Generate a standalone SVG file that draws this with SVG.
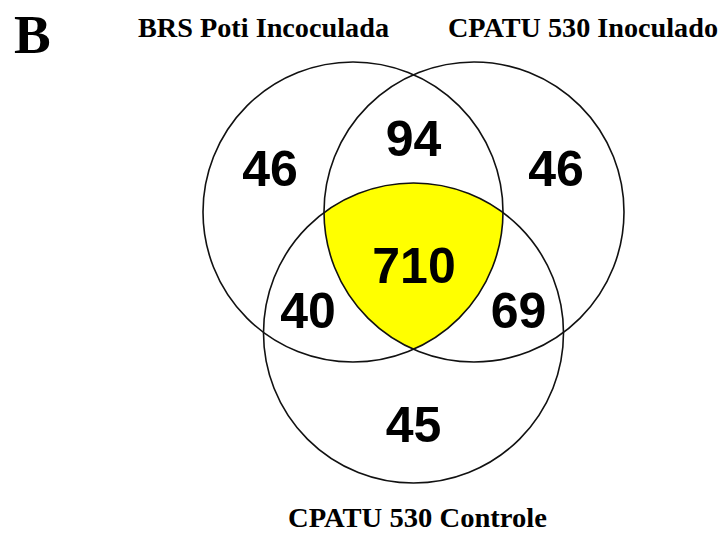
<svg xmlns="http://www.w3.org/2000/svg" width="726" height="535" viewBox="0 0 726 535">
<style>
.c{fill:none;stroke:#111;stroke-width:1.6}
.n{font-family:"Liberation Sans",Arial,sans-serif;font-weight:bold;font-size:50px;fill:#000;text-anchor:middle}
.t{font-family:"Liberation Serif","Times New Roman",serif;font-weight:bold;font-size:26.5px;fill:#000}
</style>
<rect width="726" height="535" fill="#fff"/>
<g id="center-region">
<path d="M324,212.6 A150,150 0 0 1 503,212.6 A150,150 0 0 1 413.5,349.3 A150,150 0 0 1 324,212.6 Z" fill="#ffff00"/>
</g>
<g id="circles">
<circle id="brs-poti" class="c" cx="353" cy="212" r="150"/>
<circle id="cpatu-inoculado" class="c" cx="474" cy="212" r="150"/>
<circle id="cpatu-controle" class="c" cx="413.5" cy="333" r="150"/>
</g>
<g id="counts">
<text class="n" x="270" y="186">46</text>
<text class="n" x="413.5" y="156">94</text>
<text class="n" x="556" y="186">46</text>
<text class="n" x="414" y="283">710</text>
<text class="n" x="308" y="328">40</text>
<text class="n" x="518.5" y="328">69</text>
<text class="n" x="413.5" y="442">45</text>
</g>
<g id="labels">
<text x="14" y="53" style="font-family:'Liberation Serif','Times New Roman',serif;font-weight:bold;font-size:55px">B</text>
<text class="t" x="138" y="37" textLength="251" lengthAdjust="spacingAndGlyphs">BRS Poti Incoculada</text>
<text class="t" x="448" y="37" textLength="270" lengthAdjust="spacingAndGlyphs">CPATU 530 Inoculado</text>
<text class="t" x="288" y="527" textLength="259" lengthAdjust="spacingAndGlyphs">CPATU 530 Controle</text>
</g>
</svg>
